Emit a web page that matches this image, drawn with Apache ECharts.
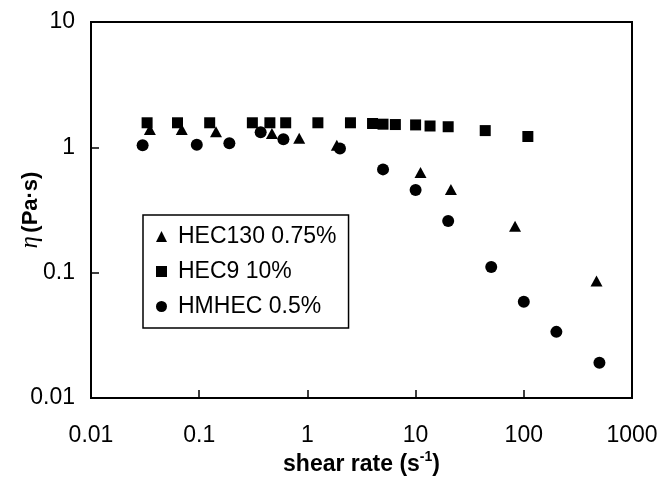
<!DOCTYPE html>
<html>
<head>
<meta charset="utf-8">
<script src="https://cdn.jsdelivr.net/npm/echarts@6/dist/echarts.min.js"></script>
<style>
  html, body { margin: 0; padding: 0; background: #fff; }
  #chart { width: 662px; height: 479px; }
</style>
</head>
<body>
<div id="chart"></div>
<script>
// values (log-log)
const hec130X = [0.035, 0.069, 0.143, 0.47, 0.84, 1.87, 11.1, 21.2, 83, 470];
const hec130Y = [1.39, 1.39, 1.33, 1.29, 1.18, 1.04, 0.63, 0.46, 0.235, 0.086];

const hec9X = [0.033, 0.063, 0.125, 0.31, 0.45, 0.63, 1.25, 2.5, 4, 5, 6.5, 10, 13.6, 20, 44, 109];
const hec9Y = [1.57, 1.57, 1.57, 1.57, 1.57, 1.57, 1.57, 1.57, 1.55, 1.53, 1.52, 1.51, 1.48, 1.46, 1.36, 1.22];

const hmhecX = [0.030, 0.095, 0.19, 0.37, 0.60, 2.0, 5, 10, 20, 50, 100, 200, 500];
const hmhecY = [1.04, 1.05, 1.08, 1.32, 1.16, 0.98, 0.667, 0.456, 0.258, 0.111, 0.0586, 0.0337, 0.0191];

const xTickLabels = ['0.01', '0.1', '1', '10', '100', '1000'];
const yTickLabels = ['0.01', '0.1', '1', '10'];

const font = "'Liberation Sans', Arial, sans-serif";

const pairs = (xs, ys) => xs.map((x, i) => [x, ys[i]]);

const axisCommon = {
  type: 'log',
  logBase: 10,
  axisLine: { show: true, lineStyle: { color: '#000', width: 2 } },
  axisTick: { show: true, inside: true, length: 8, lineStyle: { color: '#000', width: 1.5 } },
  splitLine: { show: false },
  minorTick: { show: false },
  nameLocation: 'middle',
  nameMoveOverlap: false
};

const myChart = echarts.init(document.getElementById('chart'));
const option = {
  animation: false,
  backgroundColor: '#fff',
  grid: {
    left: 91, right: 30, top: 22, bottom: 81,
    containLabel: false,
    outerBoundsMode: 'none',
    show: true, borderColor: '#000', borderWidth: 2
  },
  legend: {
    orient: 'vertical',
    left: 143,
    top: 215,
    padding: [10, 12, 10, 13],
    itemWidth: 11,
    itemHeight: 11,
    itemGap: 12,
    borderColor: '#000',
    borderWidth: 1.5,
    formatter: name => '{t|' + name + '}',
    textStyle: {
      color: '#000',
      rich: { t: { fontFamily: font, fontSize: 23, color: '#000', lineHeight: 24, padding: [0, 0, 0, 6] } }
    },
    data: [
      { name: 'HEC130 0.75%', icon: 'triangle' },
      { name: 'HEC9 10%', icon: 'rect' },
      { name: 'HMHEC 0.5%', icon: 'circle' }
    ]
  },
  xAxis: {
    ...axisCommon,
    min: 0.01,
    max: 1000,
    axisLabel: {
      fontFamily: font, fontSize: 23, color: '#000', margin: 26,
      formatter: (v, i) => xTickLabels[i]
    },
    name: '{b|shear rate (s}{s|-1}{b|)}',
    nameGap: 52,
    nameTextStyle: {
      rich: {
        b: { fontFamily: font, fontSize: 23, fontWeight: 'bold', color: '#000', lineHeight: 26, verticalAlign: 'bottom' },
        s: { fontFamily: font, fontSize: 14, fontWeight: 'bold', color: '#000', lineHeight: 26, verticalAlign: 'top' }
      }
    }
  },
  yAxis: {
    ...axisCommon,
    min: 0.01,
    max: 10,
    axisLabel: {
      fontFamily: font, fontSize: 23, color: '#000', margin: 16,
      formatter: (v, i) => yTickLabels[i]
    },
    name: '{i|η} {b|(Pa·s)}',
    nameGap: 48,
    nameTextStyle: {
      rich: {
        i: { fontFamily: "'Liberation Serif', serif", fontStyle: 'italic', fontSize: 25, color: '#000' },
        b: { fontFamily: font, fontSize: 22, fontWeight: 'bold', color: '#000' }
      }
    }
  },
  series: [
    {
      name: 'HEC130 0.75%',
      type: 'scatter',
      symbol: 'triangle',
      symbolSize: [12, 11],
      itemStyle: { color: '#000', opacity: 1 },
      data: pairs(hec130X, hec130Y)
    },
    {
      name: 'HEC9 10%',
      type: 'scatter',
      symbol: 'rect',
      symbolSize: 11,
      itemStyle: { color: '#000', opacity: 1 },
      data: pairs(hec9X, hec9Y)
    },
    {
      name: 'HMHEC 0.5%',
      type: 'scatter',
      symbol: 'circle',
      symbolSize: 12,
      itemStyle: { color: '#000', opacity: 1 },
      data: pairs(hmhecX, hmhecY)
    }
  ]
};
option && myChart.setOption(option);
</script>
</body>
</html>
